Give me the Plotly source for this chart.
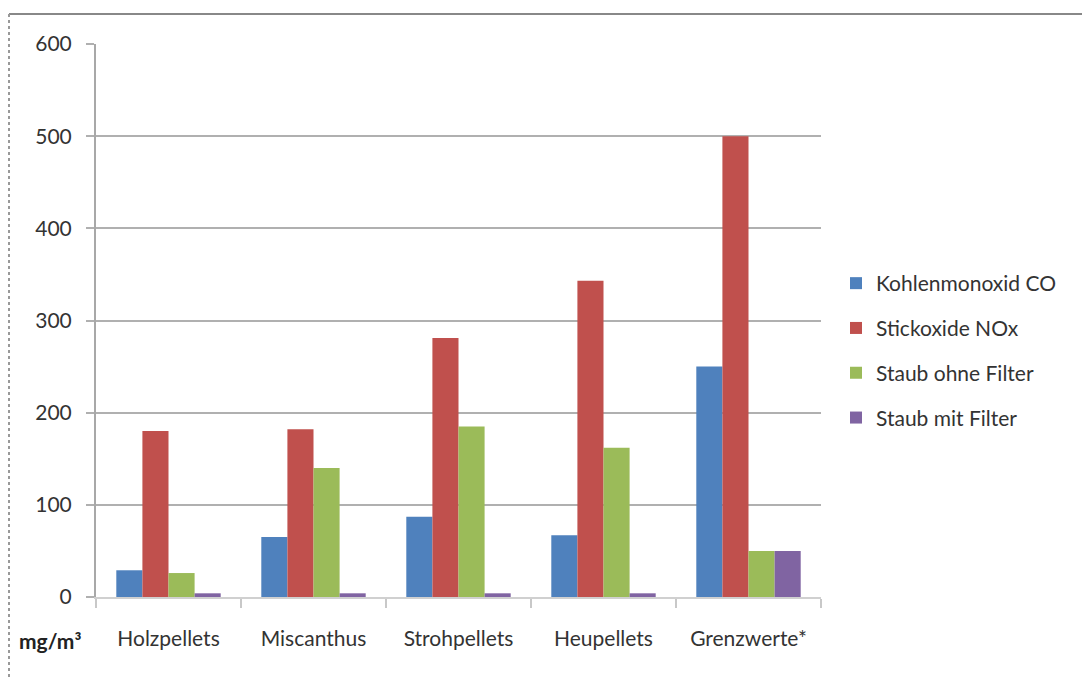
import plotly.graph_objects as go

categories = ["Holzpellets", "Miscanthus", "Strohpellets", "Heupellets", "Grenzwerte*"]
co_values = [29, 65, 87, 67, 250]
nox_values = [180, 182, 281, 343, 500]
dust_unfiltered = [26, 140, 185, 162, 50]
dust_filtered = [4, 4, 4, 4, 50]

series_names = ["Kohlenmonoxid CO", "Stickoxide NOx", "Staub ohne Filter", "Staub mit Filter"]
series_values = [co_values, nox_values, dust_unfiltered, dust_filtered]
series_colors = ["#4F81BD", "#C0504D", "#9BBB59", "#8064A2"]
y_ticks = [0, 100, 200, 300, 400, 500, 600]

FONT = "Lato"
FS = 21
W, H = 1082, 677
M_L, M_R, M_T, M_B = 96, 261, 44, 80
PW = W - M_L - M_R
PH = H - M_T - M_B


def px_x(x):
    return (x - M_L) / PW


def px_y(y):
    return (H - M_B - y) / PH


fig = go.Figure()
for i, (name, vals, col) in enumerate(zip(series_names, series_values, series_colors)):
    fig.add_trace(go.Bar(
        x=categories, y=vals, name=name, legendgroup=f"g{i}",
        marker=dict(color=col, line=dict(width=0)),
    ))

fig.update_layout(
    width=W, height=H,
    margin=dict(l=M_L, r=M_R, t=M_T, b=M_B, pad=0),
    paper_bgcolor="white", plot_bgcolor="white",
    barmode="group", bargap=0.28, bargroupgap=0,
    font=dict(family=FONT, size=FS, color="#333333"),
    legend=dict(
        x=px_x(836), xanchor="left", y=px_y(263), yanchor="top",
        font=dict(family=FONT, size=FS, color="#333333"),
        tracegroupgap=14.5, bgcolor="rgba(0,0,0,0)",
    ),
    xaxis=dict(
        type="category", showgrid=False, zeroline=False,
        showline=True, linecolor="#d0d0d0", linewidth=2,
        ticks="outside", tickson="boundaries", ticklen=9,
        tickcolor="#c8c8c8", tickwidth=2,
        ticklabelstandoff=22,
        tickfont=dict(family=FONT, size=FS, color="#333333"),
    ),
    yaxis=dict(
        range=[0, 600], tickvals=y_ticks, showgrid=True,
        gridcolor="#b0b0b0", gridwidth=2, zeroline=False,
        showline=True, linecolor="#a8a8a8", linewidth=2,
        ticks="outside", ticklen=8, tickcolor="#b0b0b0", tickwidth=2,
        ticklabelstandoff=10,
        tickfont=dict(family=FONT, size=FS, color="#333333"),
    ),
    showlegend=True,
)

# unit label below the value axis
fig.add_annotation(
    text="<b>mg/m³</b>", xref="paper", yref="paper",
    x=px_x(50), y=0, yshift=-43, xanchor="center", yanchor="middle",
    showarrow=False, font=dict(family=FONT, size=FS, color="#222222"),
)

# frame around the chart area
fig.add_shape(type="line", xref="paper", yref="paper",
              x0=px_x(9), x1=px_x(W), y0=px_y(14), y1=px_y(14),
              line=dict(color="#888888", width=2))
fig.add_shape(type="line", xref="paper", yref="paper",
              x0=px_x(9), x1=px_x(9), y0=px_y(14), y1=px_y(H),
              line=dict(color="#999999", width=2, dash="dot"))

fig.write_html("out.html")
